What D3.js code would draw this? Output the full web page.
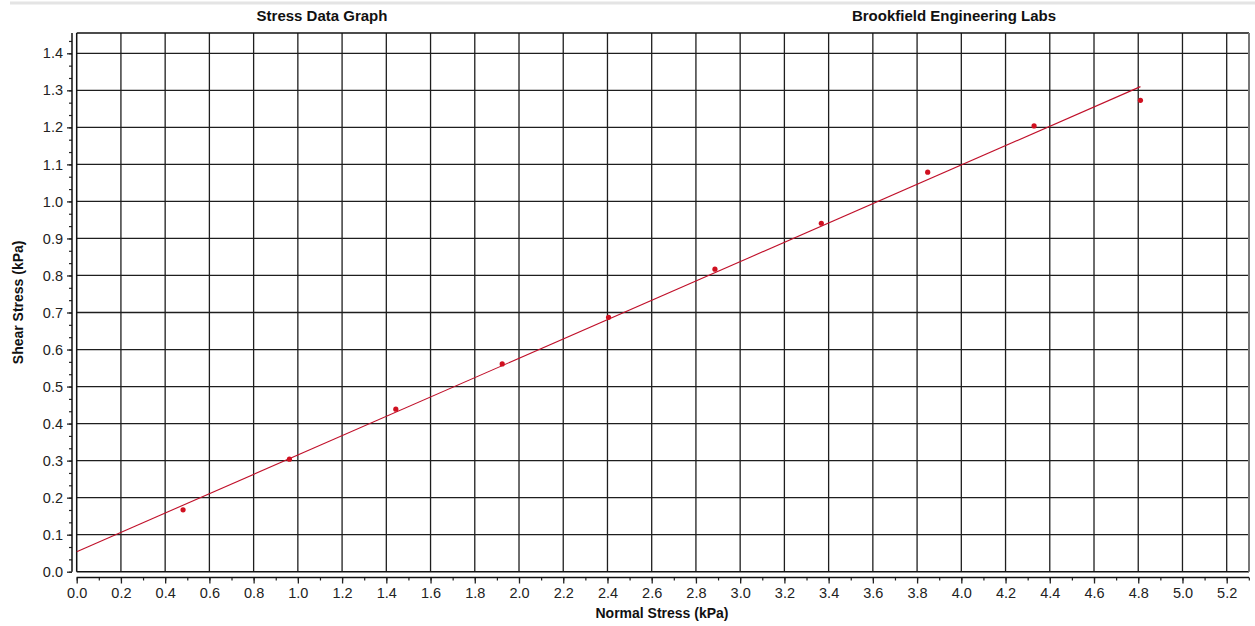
<!DOCTYPE html>
<html>
<head>
<meta charset="utf-8">
<script src="https://cdn.jsdelivr.net/npm/d3@7"></script>
<style>
  body { margin: 0; background: #fff; }
  svg { display: block; }
  .tick text { font-family: "Liberation Sans Narrow", "Arial Narrow", "Liberation Sans", Arial, sans-serif; font-size: 14.5px; fill: #222; }
  .title { font-family: "Liberation Sans", Arial, sans-serif; font-weight: bold; font-size: 15px; fill: #111; }
  .label { font-family: "Liberation Sans", Arial, sans-serif; font-weight: bold; font-size: 14px; fill: #111; }
</style>
</head>
<body>
<svg width="1255" height="626"></svg>
<script>
// measured points
const normalStress = [0.481, 0.962, 1.443, 1.924, 2.405, 2.886, 3.367, 3.848, 4.329, 4.810];
const shearStress  = [0.167, 0.304, 0.439, 0.561, 0.687, 0.817, 0.941, 1.079, 1.204, 1.273];
// fitted line ends
const fitX = [0, 4.81];
const fitY = [0.054, 1.31];
const xTicks = d3.range(0, 5.21, 0.2);
const yTicks = d3.range(0, 1.41, 0.1);
const titles = ["Stress Data Graph", "Brookfield Engineering Labs"];

const svg = d3.select("svg");
const plotLeft = 76.7, plotRight = 1249, plotTop = 33, plotBottom = 571.7;

let x = d3.scaleLinear().domain([0, 5.2]).range([plotLeft, 1226.7]);
let y = d3.scaleLinear().domain([0, 1.4]).range([plotBottom, 53.3]);

// top gray rule
svg.append("line").attr("x1", 10).attr("x2", 1255).attr("y1", 3).attr("y2", 3)
    .attr("stroke", "#e4e4e4").attr("stroke-width", 3);

// grid
const grid = svg.append("g");
grid.selectAll("line.vx").data(xTicks.filter(d => d > 0)).enter().append("line")
    .attr("x1", d => x(d)).attr("x2", d => x(d)).attr("y1", plotTop).attr("y2", plotBottom)
    .attr("stroke", "#1e1e1e").attr("stroke-width", 1.3);
grid.selectAll("line.hy").data(yTicks.filter(d => d > 0)).enter().append("line")
    .attr("x1", plotLeft).attr("x2", plotRight).attr("y1", d => y(d)).attr("y2", d => y(d))
    .attr("stroke", "#1e1e1e").attr("stroke-width", 1.3);

// plot frame
svg.append("line").attr("x1", plotLeft).attr("x2", plotRight).attr("y1", plotTop).attr("y2", plotTop).attr("stroke", "#111").attr("stroke-width", 1.5);
svg.append("line").attr("x1", plotLeft).attr("x2", plotRight).attr("y1", plotBottom).attr("y2", plotBottom).attr("stroke", "#111").attr("stroke-width", 1.5);
svg.append("line").attr("x1", plotLeft).attr("x2", plotLeft).attr("y1", plotTop).attr("y2", plotBottom).attr("stroke", "#111").attr("stroke-width", 1.5);
svg.append("line").attr("x1", plotRight).attr("x2", plotRight).attr("y1", plotTop).attr("y2", plotBottom).attr("stroke", "#777").attr("stroke-width", 2);

// y axis
const yAxisX = 72;
let yMinor = d3.range(0, 1.454, 0.1 / 3);
svg.append("g").attr("transform", `translate(${yAxisX},0)`)
    .call(d3.axisLeft(y).tickValues(yMinor).tickSize(3).tickFormat(""))
    .call(g => g.select(".domain").remove())
    .selectAll("line").attr("stroke", "#222").attr("stroke-width", 1.2);
svg.append("g").attr("transform", `translate(${yAxisX},0)`)
    .call(d3.axisLeft(y).tickValues(yTicks).tickSize(5).tickPadding(4).tickFormat(d3.format(".1f")))
    .call(g => g.select(".domain").remove())
    .call(g => g.selectAll("line").attr("stroke", "#222").attr("stroke-width", 1.3));
svg.append("line").attr("x1", yAxisX).attr("x2", yAxisX).attr("y1", plotTop).attr("y2", plotBottom)
    .attr("stroke", "#111").attr("stroke-width", 1.5);

// x axis
const xAxisY = 577.5;
let xMinor = d3.range(0, 5.31, 0.1);
svg.append("g").attr("transform", `translate(0,${xAxisY})`)
    .call(d3.axisBottom(x).tickValues(xMinor).tickSize(3).tickFormat(""))
    .call(g => g.select(".domain").remove())
    .selectAll("line").attr("stroke", "#222").attr("stroke-width", 1.2);
svg.append("g").attr("transform", `translate(0,${xAxisY})`)
    .call(d3.axisBottom(x).tickValues(xTicks).tickSize(6).tickPadding(4).tickFormat(d3.format(".1f")))
    .call(g => g.select(".domain").remove())
    .call(g => g.selectAll("line").attr("stroke", "#222").attr("stroke-width", 1.3));
svg.append("line").attr("x1", plotLeft).attr("x2", plotRight).attr("y1", xAxisY).attr("y2", xAxisY)
    .attr("stroke", "#111").attr("stroke-width", 1.5);

// fit line
svg.append("line")
    .attr("x1", x(fitX[0])).attr("y1", y(fitY[0]))
    .attr("x2", x(fitX[1])).attr("y2", y(fitY[1]))
    .attr("stroke", "#c0102a").attr("stroke-width", 1.1);

// points
svg.append("g").selectAll("circle").data(normalStress).enter()
    .append("circle")
    .attr("cx", d => x(d))
    .attr("cy", (d, i) => y(shearStress[i]))
    .attr("r", 2.6)
    .attr("fill", "#d01020");

// titles
svg.append("text").attr("class", "title").attr("x", 322).attr("y", 21).attr("text-anchor", "middle").text(titles[0]);
svg.append("text").attr("class", "title").attr("x", 954).attr("y", 21).attr("text-anchor", "middle").text(titles[1]);

svg.append("text").attr("class", "label").attr("x", 662).attr("y", 618).attr("text-anchor", "middle").text("Normal Stress (kPa)");
svg.append("text").attr("class", "label").attr("text-anchor", "middle")
    .attr("transform", `translate(23,${(plotTop + plotBottom) / 2}) rotate(-90)`)
    .text("Shear Stress (kPa)");
</script>
</body>
</html>
